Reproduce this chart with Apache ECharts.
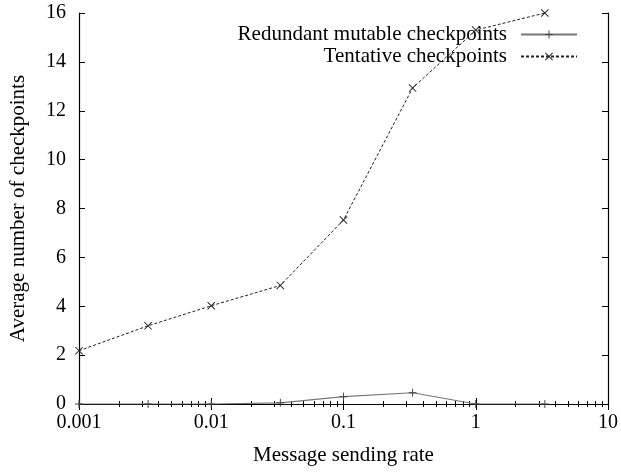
<!DOCTYPE html>
<html>
<head>
<meta charset="utf-8">
<script src="https://cdn.jsdelivr.net/npm/echarts@6/dist/echarts.min.js"></script>
<style>html,body{margin:0;padding:0;background:#fff}#c{width:621px;height:472px}</style>
</head>
<body>
<div id="c"></div>
<script>
const rates = [0.001, 0.00333, 0.01, 0.0333, 0.1, 0.333, 1, 3.33];
const redundant = [0, 0, 0, 0.05, 0.3, 0.46, 0, 0];
const tentative = [2.18, 3.2, 4.02, 4.85, 7.53, 12.93, 15.3, 16.0];
const xTickLabels = ['0.001', '0.01', '0.1', '1', '10'];
const yTicks = [0, 2, 4, 6, 8, 10, 12, 14, 16];
const seriesNames = ['Redundant mutable checkpoints', 'Tentative checkpoints'];

const FONT = 'Liberation Serif';
const plus = 'path://M0,4.4H10V5.6H0Z M4.4,0H5.6V10H4.4Z';
const cross = 'path://M0,0.8L0.8,0L10,9.2L9.2,10Z M9.2,0L10,0.8L0.8,10L0,9.2Z';

function xLabel(v) {
  const i = Math.round(Math.log10(v)) + 3;
  return xTickLabels[i] !== undefined ? xTickLabels[i] : '';
}

const baseX = {
  type: 'log', logBase: 10, min: 0.001, max: 10,
  splitLine: { show: false },
  axisLine: { show: true, lineStyle: { color: '#000', width: 1.2 } },
  axisTick: { show: true, inside: true, length: 6, lineStyle: { color: '#000' } },
  minorTick: { show: true, splitNumber: 9, length: 3, lineStyle: { color: '#000' } },
};
const baseY = {
  type: 'value', min: 0, max: 16, interval: 2,
  splitLine: { show: false },
  axisLine: { show: true, lineStyle: { color: '#000', width: 1.2 } },
  axisTick: { show: true, inside: true, length: 6, lineStyle: { color: '#000' } },
};

const legendText = { fontFamily: FONT, fontSize: 21, color: '#000', padding: [0, 9, 0, 0] };

const chart = echarts.init(document.getElementById('c'));
chart.setOption({
  animation: false,
  backgroundColor: '#fff',
  textStyle: { fontFamily: FONT },
  grid: { left: 77, right: 11, top: 13, bottom: 68, containLabel: false },
  legend: [
    {
      data: [seriesNames[0]], right: 38, top: 19, align: 'right', orient: 'vertical',
      itemWidth: 56, itemHeight: 10, selectedMode: false, textStyle: legendText
    },
    {
      data: [seriesNames[1]], right: 38, top: 41, align: 'right', orient: 'vertical',
      itemWidth: 56, itemHeight: 10, selectedMode: false, textStyle: legendText
    }
  ],
  xAxis: [
    Object.assign({}, baseX, {
      position: 'bottom',
      name: 'Message sending rate', nameLocation: 'middle', nameGap: 41,
      nameTextStyle: { fontFamily: FONT, fontSize: 21, color: '#000' },
      axisLabel: { show: true, margin: 9, fontFamily: FONT, fontSize: 20, color: '#000', formatter: xLabel }
    }),
    Object.assign({}, baseX, { position: 'top', axisLabel: { show: false } })
  ],
  yAxis: [
    Object.assign({}, baseY, {
      position: 'left',
      name: 'Average number of checkpoints', nameLocation: 'middle', nameGap: 50,
      nameTextStyle: { fontFamily: FONT, fontSize: 21, color: '#000' },
      axisLabel: { show: true, margin: 13, fontFamily: FONT, fontSize: 20, color: '#000',
        formatter: v => yTicks.indexOf(v) >= 0 ? String(v) : '' }
    }),
    Object.assign({}, baseY, { position: 'right', axisLabel: { show: false } })
  ],
  series: [
    {
      name: seriesNames[0], type: 'line', xAxisIndex: 0, yAxisIndex: 0,
      data: rates.map((r, i) => [r, redundant[i]]),
      symbol: plus, symbolSize: 8, showSymbol: true,
      lineStyle: { color: '#777', width: 1.2, type: 'solid' },
      itemStyle: { color: '#444' },
      z: 3
    },
    {
      name: seriesNames[1], type: 'line', xAxisIndex: 0, yAxisIndex: 0,
      data: rates.map((r, i) => [r, tentative[i]]),
      symbol: cross, symbolSize: 8, showSymbol: true,
      lineStyle: { color: '#222', width: 1, type: [3, 2] },
      itemStyle: { color: '#222' },
      z: 4
    },
    {
      name: 'frame', type: 'line', xAxisIndex: 1, yAxisIndex: 1,
      data: [[rates[0], 0]], symbol: 'none', silent: true,
      lineStyle: { opacity: 0 }, tooltip: { show: false }
    }
  ]
});
</script>
</body>
</html>
